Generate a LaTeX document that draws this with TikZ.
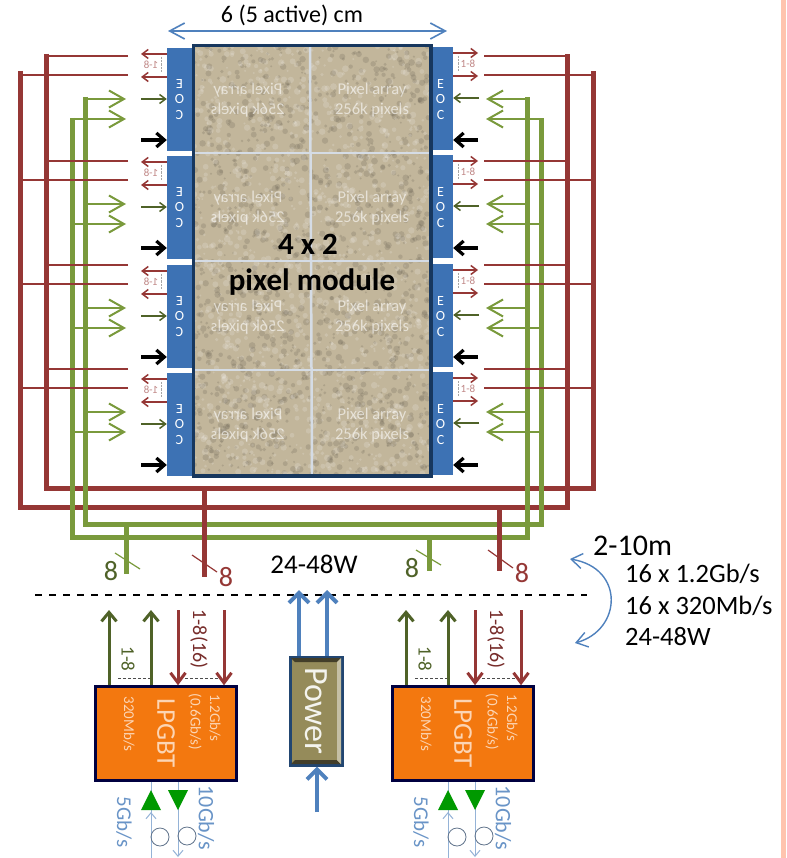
\documentclass[tikz,border=0pt]{standalone}
\usepackage{fontspec}
\setmainfont{Carlito}
\usetikzlibrary{arrows.meta}
\newcommand{\fs}[1]{\fontsize{#1}{#1}\selectfont}
\definecolor{eocblue}{HTML}{3D72B4}
\definecolor{linkblue}{HTML}{4F81BD}
\definecolor{paleblue}{HTML}{95B3D7}
\definecolor{darkframe}{HTML}{17375E}
\definecolor{busred}{HTML}{953735}
\definecolor{busgreen}{HTML}{7A9A3C}
\definecolor{darkolive}{HTML}{4F6228}
\definecolor{sand}{HTML}{C2B69B}
\definecolor{gridwhite}{HTML}{D5DCE5}
\definecolor{lpgbtorange}{HTML}{F3780F}
\definecolor{lpgbttext}{HTML}{FCD5B4}
\definecolor{powergold}{HTML}{958B5A}
\definecolor{sidepink}{HTML}{FFC4AE}
\begin{document}
\begin{tikzpicture}[
  x=1pt, y=-1pt,
  font=\fs{27},
  eocbox/.style={draw=none, fill=eocblue, inner sep=0pt},
  eoctext/.style={text=white, align=center, font=\fontsize{14}{15.5}\selectfont, inner sep=0pt},
  pixeltext/.style={text=white, text opacity=.6, align=center, font=\fontsize{16.5}{20}\selectfont, inner sep=0pt},
  rangetext/.style={text=busred!60, font=\fs{11}, inner sep=0pt},
  gridline/.style={draw=gridwhite, line width=2.5pt},
  redbus/.style={draw=busred, line width=5pt, line join=miter},
  greenbus/.style={draw=busgreen, line width=5pt, line join=miter},
  redwire/.style={draw=busred, line width=1.6pt},
  greenwire/.style={draw=busgreen, line width=2pt, -{Straight Barb[length=15pt,width=17pt]}},
  shortgreen/.style={draw=darkolive, line width=1.5pt, -{Straight Barb[length=6pt,width=9pt]}},
  shortred/.style={draw=busred, line width=1.5pt, -{Straight Barb[length=6pt,width=9pt]}},
  shortblack/.style={draw=black, line width=3.2pt, -{Straight Barb[length=8pt,width=14pt]}},
  upolive/.style={draw=darkolive, line width=3pt, -{Straight Barb[length=9pt,width=15pt]}},
  downred/.style={draw=busred, line width=3pt, -{Straight Barb[length=10pt,width=15pt]}},
  powerarrow/.style={draw=linkblue, line width=4pt, -{Straight Barb[length=10pt,width=20pt]}},
  fibre/.style={draw=paleblue, line width=1pt},
  tickmark/.style={line width=1.2pt},
  gbtbox/.style={draw=black!75!blue, line width=2.5pt, fill=lpgbtorange, minimum width=141pt,
                 minimum height=94pt, inner sep=0pt},
  gbttext/.style={text=lpgbttext, rotate=-90, font=\fs{15}, inner sep=0pt},
  laser/.style={fill=green!60!black, draw=none},
  sidetext/.style={anchor=west, inner sep=0pt, font=\fs{26.5}}
]
\useasboundingbox (0,0) rectangle (786,858);
\fill[white] (0,0) rectangle (786,858);
\fill[sidepink] (781,0) rectangle (786,858);

% width arrow
\node[inner sep=0pt, font=\fs{24}] (width) at (292,15) {6 (5 active) cm};
\coordinate (widthl) at (168,31);
\coordinate (widthr) at (447,31);
\draw[draw=linkblue, line width=1.6pt, {Straight Barb[length=15pt,width=16pt]}-{Straight Barb[length=15pt,width=16pt]}] (widthl) -- (widthr);

% pixel array with a speckled surface
\fill[sand] (194,46) rectangle (430,476);
\begin{scope}
  \clip (194,46) rectangle (430,476);
  \pgfmathsetseed{4711}
  \foreach \k in {1,...,1300} {
    \pgfmathsetmacro{\px}{194+236*rnd}
    \pgfmathsetmacro{\py}{46+430*rnd}
    \pgfmathsetmacro{\pr}{1+2.4*rnd}
    \fill[black!45!sand, opacity=.24] (\px,\py) circle[radius=\pr];
    \pgfmathsetmacro{\px}{194+236*rnd}
    \pgfmathsetmacro{\py}{46+430*rnd}
    \fill[white, opacity=.16] (\px,\py) circle[radius=\pr];
  }
\end{scope}
\draw[gridline] (310,46) -- (312,476);
\foreach \gy in {153,261,370}
  \draw[gridline] (194,\gy) -- (430,\gy);
\draw[draw=darkframe, line width=3.5pt] (193.5,45.5) rectangle (431,476);

% buses
\draw[redbus] (46,54) -- (46,488) -- (593,488) -- (593,71);
\draw[redbus] (20,71) -- (20,507) -- (567,507) -- (567,54);
\draw[greenbus] (85,97) -- (85,524) -- (541,524) -- (541,118);
\draw[greenbus] (72,118) -- (72,537) -- (527,537) -- (527,97);

% one row of the module: EOC pair and its links
\foreach \r/\e/\w in {1/0/0,2/108/105,3/217/209,4/325/313} {
  \node[eocbox, minimum width=25pt, minimum height=103pt] (eocl\r) at (179.5,99.5+\e) {};
  \node[eocbox, minimum width=20pt, minimum height=103pt] (eocr\r) at (443,98.5+\e) {};
  \node[eoctext, xscale=-1] (textl\r) at (eocl\r.center) {E\\O\\C};
  \node[eoctext] (textr\r) at (440.5,99.5+\e) {E\\O\\C};
  \node[pixeltext, xscale=-1] (arrayl\r) at (248,100+\e) {Pixel array\\256k pixels};
  \node[pixeltext] (arrayr\r) at (372,100+\e) {Pixel array\\256k pixels};
  % red outputs
  \draw[shortred] (eocl\r.west |- 0,54+\e) -- (141,54+\e);
  \draw[shortred] (eocl\r.west |- 0,77+\e) -- (141,77+\e);
  \draw[shortred] (eocr\r.east |- 0,53+\e) -- (478,53+\e);
  \draw[shortred] (eocr\r.east |- 0,76+\e) -- (478,76+\e);
  \node[rangetext, xscale=-1] (rangel\r) at (151,65+\e) {1-8};
  \node[rangetext] (ranger\r) at (468,64+\e) {1-8};
  \draw[densely dotted, black!35] (161,57+\e) -- (161,72+\e);
  \draw[densely dotted, black!35] (458,56+\e) -- (458,71+\e);
  % short inputs
  \draw[shortgreen] (141,99+\e) -- (eocl\r.west |- 0,99+\e);
  \draw[shortgreen] (479,98+\e) -- (eocr\r.east |- 0,98+\e);
  \draw[shortblack] (141,140+\e) -- (eocl\r.west |- 0,140+\e);
  \draw[shortblack] (478,140+\e) -- (eocr\r.east |- 0,140+\e);
  % wires from the buses
  \draw[greenwire] (85,99+\w) -- (126,99+\w);
  \draw[greenwire] (72,119+\w) -- (126,119+\w);
  \draw[greenwire] (527,99+\w) -- (486,99+\w);
  \draw[greenwire] (541,119+\w) -- (486,119+\w);
  \draw[redwire] (128,56+\w) -- (46,56+\w);
  \draw[redwire] (128,75+\w) -- (20,75+\w);
  \draw[redwire] (484,56+\w) -- (567,56+\w);
  \draw[redwire] (484,75+\w) -- (593,75+\w);
}

% module title
\node[inner sep=0pt, font=\fs{31}\bfseries] (modulea) at (308,244) {4 x 2};
\node[inner sep=0pt, font=\fs{31}\bfseries] (moduleb) at (312,282) {pixel module};

% stems with bundle sizes
\draw[greenbus] (126,524) -- (126,574);
\draw[redbus] (204,488) -- (204,577);
\draw[greenbus] (429,537) -- (429,571);
\draw[redbus] (499,507) -- (499,571);
\draw[tickmark, busgreen] (115,553) -- (140,569);
\draw[tickmark, busred] (192,555) -- (217,572);
\draw[tickmark, busgreen] (416,550) -- (441,565);
\draw[tickmark, busred] (488,550) -- (513,568);
\node[text=darkolive, inner sep=0pt, font=\fs{28}] (numa) at (111,571) {8};
\node[text=busred, inner sep=0pt, font=\fs{28}] (numb) at (226,577) {8};
\node[text=darkolive, inner sep=0pt, font=\fs{28}] (numc) at (412,568) {8};
\node[text=busred, inner sep=0pt, font=\fs{28}] (numd) at (522,573) {8};

\node[inner sep=0pt] (watt) at (314,564) {24-48W};
\coordinate (cutl) at (35,595);
\coordinate (cutr) at (587,595);
\draw[dashed, line width=1.2pt, dash pattern=on 7pt off 7pt] (cutl) -- (cutr);

% side notes
\node[sidetext, font=\fs{30}] (length) at (593,546) {2-10m};
\node[sidetext] (linka) at (625,574) {16 x 1.2Gb/s};
\node[sidetext] (linkb) at (625,606) {16 x 320Mb/s};
\node[sidetext] (linkc) at (625,637) {24-48W};
\coordinate (bendt) at (570,559);
\coordinate (bendb) at (575,643);
\draw[draw=linkblue, line width=1.4pt, {Straight Barb[length=11pt,width=15pt]}-{Straight Barb[length=11pt,width=15pt]}]
  (bendt) .. controls (625,568) and (622,630) .. (bendb);

% LPGBT blocks
\foreach \n/\d in {l/0,r/297} {
  \node[gbtbox] (gbt\n) at (166+\d,733.5) {};
  \node[gbttext, font=\fs{27}] (gbtname\n) at (166+\d,733) {LPGBT};
  \node[gbttext] (slow\n) at (129+\d,724) {320Mb/s};
  \node[gbttext] (fast\n) at (215+\d,718) {1.2Gb/s};
  \node[gbttext] (half\n) at (195+\d,722) {(0.6Gb/s)};
  \draw[upolive] (gbt\n.north -| 109+\d,0) -- (109+\d,610);
  \draw[upolive] (gbt\n.north -| 151+\d,0) -- (151+\d,610);
  \draw[downred] (178+\d,610) -- (gbt\n.north -| 178+\d,0);
  \draw[downred] (224+\d,610) -- (gbt\n.north -| 224+\d,0);
  \draw[densely dashed, black!70, line width=.5pt] (118+\d,678) -- (150+\d,678);
  \draw[densely dashed, black!70, line width=.5pt] (185+\d,678) -- (218+\d,678);
  \node[text=darkolive, rotate=-90, inner sep=0pt, font=\fs{19}] (uprange\n) at (128+\d,659) {1-8};
  \node[text=busred!80!black, rotate=-90, inner sep=0pt, font=\fs{20}] (downrange\n) at (199+\d,639) {1-8(16)};
  % fibre side
  \draw[fibre] (gbt\n.south -| 151+\d,0) -- (151+\d,858);
  \draw[fibre, -{Straight Barb[length=6pt,width=10pt]}] (gbt\n.south -| 178+\d,0) -- (178+\d,857);
  \draw[fibre, -{Straight Barb[length=6pt,width=10pt]}] (151+\d,830) -- (151+\d,812);
  \draw[laser] (151+\d,790) -- (161+\d,810) -- (141+\d,810) -- cycle;
  \draw[laser] (178+\d,810) -- (188+\d,790) -- (168+\d,790) -- cycle;
  \draw[draw=black!35!paleblue, line width=.8pt] (160+\d,837) circle[radius=9];
  \draw[draw=black!35!paleblue, line width=.8pt] (187+\d,836) circle[radius=9];
  \node[text=linkblue!85, rotate=-90, inner sep=0pt, font=\fs{21}] (rx\n) at (124+\d,822) {5Gb/s};
  \node[text=linkblue!85, rotate=-90, inner sep=0pt, font=\fs{22}] (tx\n) at (206+\d,818) {10Gb/s};
}

% power block
\node[draw=darkframe!80!linkblue, line width=3pt, fill=powergold, minimum width=52pt, minimum height=108pt,
      inner sep=0pt] (power) at (316,711) {};
\fill[black!55!powergold] (291,658) -- (341,658) -- (337,662) -- (295,662) -- cycle;
\fill[black!55!powergold] (291,764) -- (341,764) -- (337,760) -- (295,760) -- cycle;
\fill[white!45!powergold] (341,658) -- (341,764) -- (337,760) -- (337,662) -- cycle;
\node[text=white!90!powergold, rotate=-90, inner sep=0pt, font=\fs{34}] (powername) at (316,711) {Power};
\draw[powerarrow] (power.north -| 299,0) -- (299,590);
\draw[powerarrow] (power.north -| 327,0) -- (327,590);
\coordinate (powerin) at (317,812);
\draw[powerarrow] (powerin) -- (power.south -| 317,0);
\end{tikzpicture}
\end{document}
